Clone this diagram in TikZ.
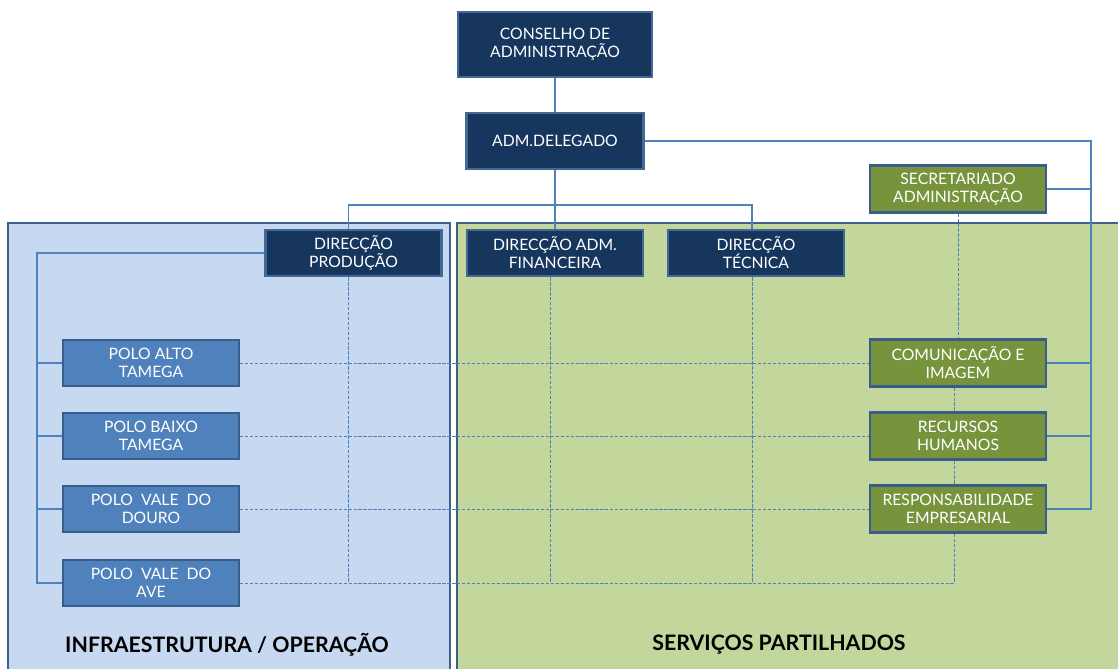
\documentclass[tikz,border=0pt]{standalone}
\usepackage{fontspec}
\setmainfont{Lato}
\usepackage{tikz}

\definecolor{navyfill}{RGB}{23,54,93}
\definecolor{navyedge}{RGB}{66,104,150}
\definecolor{polofill}{RGB}{79,129,189}
\definecolor{boxedge}{RGB}{56,93,138}
\definecolor{sharefill}{RGB}{119,147,60}
\definecolor{infrabg}{RGB}{198,217,241}
\definecolor{sharebg}{RGB}{195,214,155}
\definecolor{panedge}{RGB}{62,96,140}
\definecolor{linkcol}{RGB}{79,129,189}

\begin{document}
\begin{tikzpicture}[x=0.75pt,y=0.75pt,yscale=-1,xscale=1,
  orgbox/.style={draw, rectangle, text=white, align=center, font=\fontsize{11.8}{13.5}\selectfont,
    minimum width=132pt, minimum height=35pt, inner sep=1pt},
  topbox/.style={orgbox, fill=navyfill, draw=navyedge, line width=1.6pt},
  polobox/.style={orgbox, fill=polofill, draw=boxedge, line width=1.6pt},
  sharebox/.style={orgbox, fill=sharefill, draw=boxedge, line width=2pt},
  link/.style={draw=linkcol, line width=0.8pt},
  dlink/.style={draw=linkcol, line width=0.7pt, dash pattern=on 2.5pt off 1.2pt},
  panel/.style={draw=panedge, line width=2.2pt},
  paneltitle/.style={font=\fontsize{16}{19}\selectfont\bfseries, text=black}]
\useasboundingbox (0,0) rectangle (1118,668);

% panels
\draw [panel, fill=infrabg] (8,223) rectangle (450,690);
\draw [panel, fill=sharebg] (457,223) rectangle (1130,690);
\node [paneltitle] (infratitle) at (227,645) {INFRAESTRUTURA / OPERAÇÃO};
\node [paneltitle] (sharetitle) at (779,645) {SERVIÇOS PARTILHADOS};

% boxes
\node [topbox, minimum width=145.5pt, minimum height=48.75pt] (cons) at (555,44.5) {CONSELHO DE\\ADMINISTRAÇÃO};
\node [topbox, minimum width=132.75pt, minimum height=42pt] (deleg) at (555,141) {ADM.DELEGADO};
\node [topbox] (dprod) at (353.5,253) {DIRECÇÃO\\PRODUÇÃO};
\node [topbox] (dfin) at (555,253) {DIRECÇÃO ADM.\\FINANCEIRA};
\node [topbox] (dtec) at (756,253) {DIRECÇÃO\\TÉCNICA};
\node [sharebox] (secr) at (958,189) {SECRETARIADO\\ADMINISTRAÇÃO};
\node [sharebox] (comu) at (958,363) {COMUNICAÇÃO E\\IMAGEM};
\node [sharebox] (rh) at (958,436) {RECURSOS\\HUMANOS};
\node [sharebox] (resp) at (958,509) {RESPONSABILIDADE\\EMPRESARIAL};
\node [polobox] (palto) at (151,363) {POLO ALTO\\TAMEGA};
\node [polobox] (pbaixo) at (151,436) {POLO BAIXO\\TAMEGA};
\node [polobox] (pdouro) at (151,509) {POLO\ \ VALE\ \ DO\\DOURO};
\node [polobox] (pave) at (151,583) {POLO\ \ VALE\ \ DO\\AVE};

\coordinate (bus) at (555,205);
\coordinate (rspine) at (1091,509);
\coordinate (lspine) at (37,583);

% solid links
\draw [link] (cons.south) -- (deleg.north);
\draw [link] (deleg.south) -- (dfin.north);
\draw [link] ([xshift=-4pt]dprod.north) |- (bus) -| ([xshift=-3pt]dtec.north);
\draw [link] (deleg.east) -| (rspine) -- (resp.east);
\foreach \b in {secr,comu,rh}
  \draw [link] (\b.east) -- (\b.east -| rspine);
\draw [link] (dprod.west) -| (lspine) -- (pave.west);
\foreach \b in {palto,pbaixo,pdouro}
  \draw [link] (\b.west) -- (\b.west -| lspine);

% dashed links
\foreach \b/\s in {dprod/-4pt,dfin/-3.5pt,dtec/-3pt}
  \draw [dlink] ([xshift=\s]\b.south) -- ([xshift=\s]\b.south |- pave.east);
\draw [dlink] (pave.east) -| ([xshift=-3pt]resp.south);
\draw [dlink] (palto.east) -- (comu.west);
\draw [dlink] (pbaixo.east) -- (rh.west);
\draw [dlink] (pdouro.east) -- (resp.west);
\draw [dlink] (secr.south) -- (comu.north);
\draw [dlink] ([xshift=-3pt]comu.south) -- ([xshift=-3pt]rh.north);
\draw [dlink] ([xshift=-3pt]rh.south) -- ([xshift=-3pt]resp.north);

\end{tikzpicture}
\end{document}
